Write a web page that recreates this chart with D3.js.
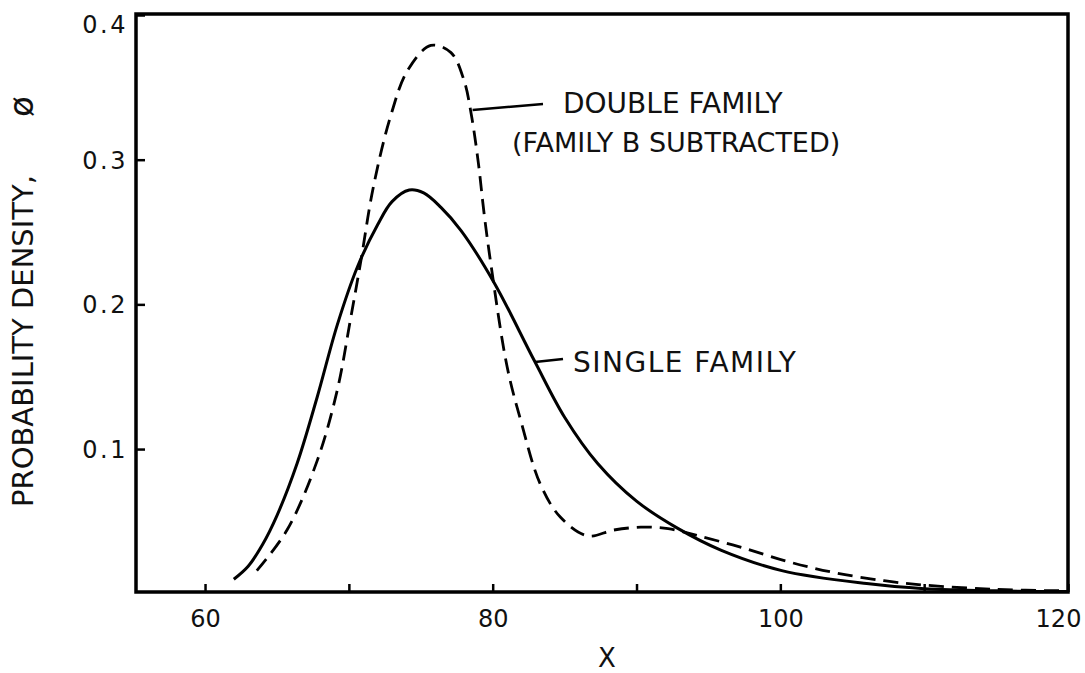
<!DOCTYPE html>
<html>
<head>
<meta charset="utf-8">
<script src="https://cdn.jsdelivr.net/npm/d3@7"></script>
<style>
  body { margin: 0; background: #fff; }
  .chart text { font-family: "DejaVu Sans", sans-serif; fill: #111; }
</style>
</head>
<body>
<div class="chart"></div>
<script>
// single family curve (solid)
const singleX = [62.0, 63.0, 64.0, 65.0, 66.4, 67.8, 69.2, 70.6, 72.0, 73.0, 74.2, 75.2, 76.4, 77.8, 80.1, 82.9, 85.0, 87.3, 90.0, 92.9, 95.9, 100.1, 106.0, 110.0, 115.0, 120.0];
const singleY = [0.010, 0.019, 0.034, 0.054, 0.090, 0.136, 0.186, 0.226, 0.255, 0.271, 0.279, 0.277, 0.267, 0.251, 0.215, 0.161, 0.122, 0.090, 0.064, 0.045, 0.030, 0.016, 0.007, 0.0035, 0.002, 0.0015];
// double family curve, family B subtracted (dashed)
const doubleX = [63.6, 65.7, 67.8, 69.2, 70.1, 70.8, 71.7, 72.9, 74.1, 75.7, 77.1, 78.0, 78.5, 79.0, 79.4, 79.9, 81.0, 82.0, 83.3, 84.7, 86.6, 88.4, 90.3, 92.2, 94.3, 97.3, 100.6, 103.8, 107.2, 110.0, 115.0, 120.0];
const doubleY = [0.016, 0.044, 0.092, 0.141, 0.189, 0.228, 0.281, 0.330, 0.362, 0.379, 0.374, 0.355, 0.332, 0.298, 0.263, 0.226, 0.157, 0.118, 0.076, 0.053, 0.040, 0.044, 0.046, 0.045, 0.040, 0.032, 0.022, 0.0145, 0.009, 0.006, 0.003, 0.002];
// ticks
const xTicks = [60, 70, 80, 90, 100, 110, 120];
const xTickLabels = ['60', '', '80', '', '100', '', '120'];
const yTicks = [0.1, 0.2, 0.3, 0.4];
const yTickLabels = ['0.1', '0.2', '0.3', '0.4'];

let canvas = {
  svg: {},
  xScale: {},
  yScale: {},
  line: {},
  config: {
    width: 1085,
    height: 673,
    top: 14,
    right: 17,
    bottom: 81,
    left: 136
  },
  init: function () {
    this.svg = d3.select('.chart').append('svg')
      .attr('width', this.config.width)
      .attr('height', this.config.height);
    this.bind();
    this.render();
  },
  bind: function () {
    let c = this.config;
    this.xScale = d3.scaleLinear().domain([55.2, 120]).range([c.left, c.width - c.right]);
    this.yScale = d3.scaleLinear().domain([0.0012, 0.4]).range([c.height - c.bottom, 15]);
    this.line = d3.line()
      .x(d => this.xScale(d[0]))
      .y(d => this.yScale(d[1]))
      .curve(d3.curveCatmullRom.alpha(0.5));
  },
  render: function () {
    let c = this.config;
    let x = this.xScale, y = this.yScale;
    let bottom = c.height - c.bottom;

    // 曲線
    this.svg.append('path')
      .attr('fill', 'none')
      .attr('stroke', '#000')
      .attr('stroke-width', 3)
      .attr('d', this.line(singleX.map((v, i) => [v, singleY[i]])));
    this.svg.append('path')
      .attr('fill', 'none')
      .attr('stroke', '#000')
      .attr('stroke-width', 2.8)
      .attr('stroke-dasharray', '15,8')
      .attr('d', this.line(doubleX.map((v, i) => [v, doubleY[i]])));

    // frame
    this.svg.append('rect')
      .attr('x', c.left).attr('y', c.top)
      .attr('width', c.width - c.right - c.left)
      .attr('height', bottom - c.top)
      .attr('fill', 'none')
      .attr('stroke', '#000')
      .attr('stroke-width', 3.5);

    // x axis
    let xAxis = d3.axisBottom(x).tickValues(xTicks)
      .tickSizeInner(-8).tickSizeOuter(0).tickPadding(18)
      .tickFormat((d, i) => xTickLabels[i]);
    let gx = this.svg.append('g')
      .attr('transform', `translate(0, ${bottom})`)
      .call(xAxis);
    gx.select('.domain').remove();
    gx.selectAll('line').attr('stroke', '#000').attr('stroke-width', 2.5);
    gx.selectAll('text').attr('font-size', 24).attr('dy', '0.71em')
      .style('font-family', '"DejaVu Sans", sans-serif').attr('fill', '#111')
      .attr('dx', (d, i) => i === xTicks.length - 1 ? -10 : 0);

    // y axis
    let yAxis = d3.axisLeft(y).tickValues(yTicks)
      .tickSizeInner(-9).tickSizeOuter(0).tickPadding(8)
      .tickFormat((d, i) => yTickLabels[i]);
    let gy = this.svg.append('g')
      .attr('transform', `translate(${c.left}, 0)`)
      .call(yAxis);
    gy.select('.domain').remove();
    gy.selectAll('line').attr('stroke', '#000').attr('stroke-width', 2.5);
    gy.selectAll('text').attr('font-size', 24).attr('letter-spacing', 2.5)
      .style('font-family', '"DejaVu Sans", sans-serif').attr('fill', '#111')
      .attr('dy', (d, i) => i === yTicks.length - 1 ? '0.72em' : '0.35em');

    // axis titles
    this.svg.append('text')
      .attr('x', 607).attr('y', 667)
      .attr('text-anchor', 'middle')
      .attr('font-size', 26)
      .text('X');
    let yt = this.svg.append('text')
      .attr('transform', 'rotate(-90)')
      .attr('x', -507).attr('y', 33)
      .attr('font-size', 29);
    yt.append('tspan').text('PROBABILITY DENSITY,');
    yt.append('tspan').attr('dx', 58).attr('font-size', 34).text('ø');

    // annotations
    this.svg.append('line')
      .attr('x1', x(78.6)).attr('y1', 110).attr('x2', 543).attr('y2', 104)
      .attr('stroke', '#000').attr('stroke-width', 2.5);
    this.svg.append('text').attr('x', 563).attr('y', 113).attr('font-size', 28)
      .text('DOUBLE FAMILY');
    this.svg.append('text').attr('x', 512).attr('y', 152).attr('font-size', 27)
      .text('(FAMILY B SUBTRACTED)');
    this.svg.append('line')
      .attr('x1', 535).attr('y1', 362).attr('x2', 563).attr('y2', 359)
      .attr('stroke', '#000').attr('stroke-width', 2.5);
    this.svg.append('text').attr('x', 573).attr('y', 372).attr('font-size', 28)
      .attr('letter-spacing', 1.5)
      .text('SINGLE FAMILY');
  }
};

canvas.init();
</script>
</body>
</html>
